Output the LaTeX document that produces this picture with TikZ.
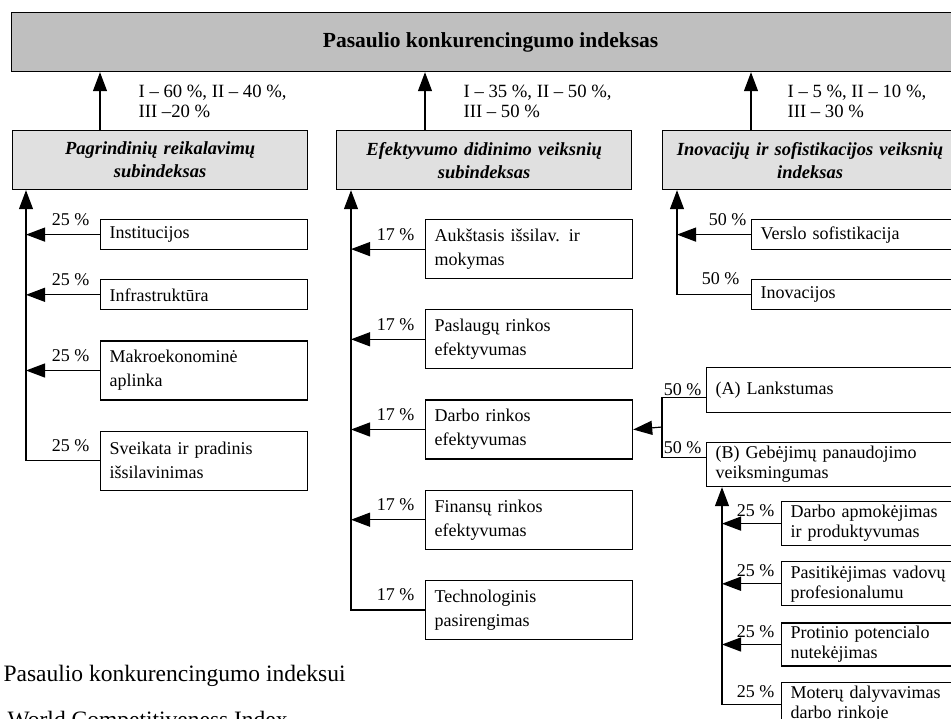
\documentclass[tikz,border=0pt]{standalone}
\usepackage{fontspec}
\setmainfont{Liberation Serif}
\usetikzlibrary{arrows.meta,positioning,calc}
\definecolor{indexgray}{RGB}{191,191,191}
\definecolor{subgray}{RGB}{224,224,224}

\begin{document}
\begin{tikzpicture}[
    x=1pt, y=-1pt, line width=1.2pt,
    block/.style={rectangle, draw, inner xsep=9pt, inner ysep=0pt, anchor=north west, align=left, font=\fontsize{18}{24}\selectfont},
    factor/.style={block, text width=189pt, minimum height=#1},
    widefactor/.style={block, text width=300pt, minimum height=#1},
    tight/.style={font=\fontsize{18}{20}\selectfont},
    mainblock/.style={block, fill=indexgray, minimum width=958pt, minimum height=59pt, align=center, font=\fontsize{21.5}{24}\selectfont\bfseries},
    subblock/.style={block, fill=subgray, text width=277pt, minimum height=59pt, align=center, font=\fontsize{18.5}{23}\selectfont\bfseries\itshape},
    share/.style={inner sep=0pt, anchor=base east, font=\fontsize{18}{20}\selectfont},
    weights/.style={inner sep=0pt, anchor=north west, align=left, font=\fontsize{18.7}{20}\selectfont},
    caption/.style={inner sep=0pt, anchor=base west, font=\fontsize{23.5}{26}\selectfont},
    arrow/.style={-{Triangle[length=19pt, width=14pt]}},
    node distance=30pt
]
    \useasboundingbox (0,0) rectangle (951,718);
    \clip (0,0) rectangle (951,718);

    % index and subindexes
    \node[mainblock] (gci) at (11,12) {Pasaulio konkurencingumo indeksas};
    \node[subblock] (basic) at (12,130) {Pagrindinių reikalavimų\\subindeksas};
    \node[subblock] (effic) at (336,130) {Efektyvumo didinimo veiksnių\\subindeksas};
    \node[subblock] (innov) at (662,130) {Inovacijų ir sofistikacijos veiksnių\\indeksas};

    \node[weights] (wbasic) at (138,84) {I – 60~\%, II – 40~\%,\\III –20~\%};
    \node[weights] (weffic) at (463,84) {I – 35~\%, II – 50~\%,\\III – 50~\%};
    \node[weights] (winnov) at (787,84) {I – 5~\%, II – 10~\%,\\III – 30~\%};

    % basic requirements
    \node[factor=30pt] (inst) at (100,219) {Institucijos};
    \node[factor=30pt, below=29pt of inst] (infra) {Infrastruktūra};
    \node[factor=59pt, below=of infra] (macro) {Makroekonominė\\aplinka};
    \node[factor=59pt, below=of macro] (health) {Sveikata ir pradinis\\išsilavinimas};

    % efficiency enhancers
    \node[factor=59pt] (higher) at (425,219) {Aukštasis išsilav. ir\\mokymas};
    \node[factor=59pt, below=of higher] (goods) {Paslaugų rinkos\\efektyvumas};
    \node[factor=59pt, below=of goods] (labour) {Darbo rinkos\\efektyvumas};
    \node[factor=59pt, below=of labour] (finance) {Finansų rinkos\\efektyvumas};
    \node[factor=59pt, below=of finance] (tech) {Technologinis\\pasirengimas};

    % innovation factors
    \node[widefactor=30pt] (soph) at (751,219) {Verslo sofistikacija};
    \node[widefactor=30pt, below=29pt of soph] (innovation) {Inovacijos};

    % labour market
    \node[widefactor=45pt] (flex) at (706,367) {(A) Lankstumas};
    \node[widefactor=44pt, tight] (talent) at (706,442) {(B) Gebėjimų panaudojimo\\veiksmingumas};
    \node[widefactor=44pt, tight] (pay) at (781,501) {Darbo apmokėjimas\\ir produktyvumas};
    \node[widefactor=44pt, tight, below=15pt of pay] (trust) {Pasitikėjimas vadovų\\profesionalumu};
    \node[widefactor=43pt, tight, below=16pt of trust] (brain) {Protinio potencialo\\nutekėjimas};
    \node[widefactor=44pt, tight, below=15pt of brain] (women) {Moterų dalyvavimas\\darbo rinkoje};

    \coordinate (ltrunk) at (26,0);
    \coordinate (mtrunk) at (351,0);
    \coordinate (rtrunk) at (677,0);
    \coordinate (btrunk) at (722,0);
    \coordinate (fork) at (662,427);

    \foreach \s/\c in {basic/inst, effic/higher, innov/soph}
        \draw[arrow] (\s.north -| \c.west) -- (gci.south -| \c.west);

    \draw[arrow] (health.west) -| (basic.south -| ltrunk);
    \foreach \n in {inst,infra,macro}
        \draw[arrow] (\n.west) -- (\n.west -| ltrunk);
    \draw[arrow] (tech.west) -| (effic.south -| mtrunk);
    \foreach \n in {higher,goods,labour,finance}
        \draw[arrow] (\n.west) -- (\n.west -| mtrunk);
    \draw[arrow] (innovation.west) -| (innov.south -| rtrunk);
    \draw[arrow] (soph.west) -- (soph.west -| rtrunk);
    \draw ([yshift=-7.5pt]flex.west) -| (fork) |- ([yshift=7pt]talent.west);
    \draw[arrow] (fork) -- (labour.east);
    \draw[arrow] (women.west) -| (talent.south -| btrunk);
    \foreach \n in {pay,trust,brain}
        \draw[arrow] (\n.west) -- (\n.west -| btrunk);

    % shares
    \foreach \n in {inst,infra,macro,health}
        \node[share] (s\n) at ($(\n.west)+(-10,-9)$) {25~\%};
    \foreach \n in {higher,goods,labour,finance,tech}
        \node[share] (s\n) at ($(\n.west)+(-10,-9)$) {17~\%};
    \node[share] (ssoph) at ($(soph.west)+(-4,-9)$) {50~\%};
    \node[share] (sinnovation) at ($(innovation.west)+(-11,-10)$) {50~\%};
    \node[share] (sflex) at ($(flex.west)+(-4,5)$) {50~\%};
    \node[share] (stalent) at ($(talent.west)+(-4,-11)$) {50~\%};
    \foreach \n in {pay,trust,brain,women}
        \node[share] (s\n) at ($(\n.west)+(-6,-7)$) {25~\%};

    \node[caption] (cap) at (3,681) {Pasaulio konkurencingumo indeksui};
    \node[caption] (capen) at (7,727) {World Competitiveness Index};
\end{tikzpicture}
\end{document}
